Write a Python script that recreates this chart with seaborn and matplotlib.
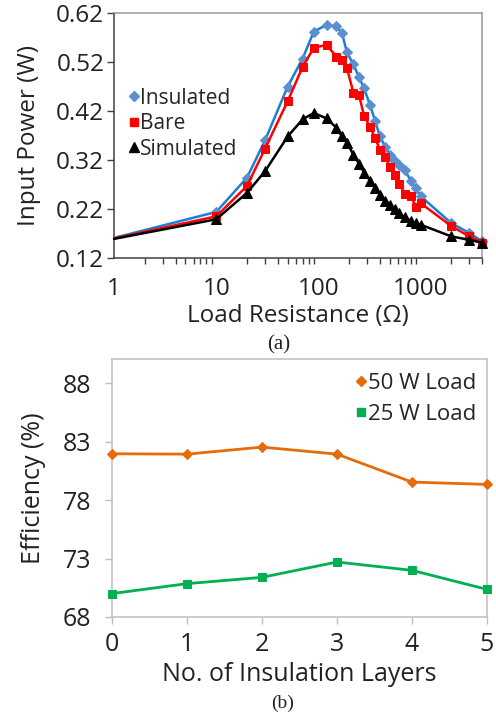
import numpy as np
import pandas as pd
import seaborn as sns
import matplotlib.pyplot as plt
from matplotlib.lines import Line2D
from matplotlib.ticker import FixedLocator, LogLocator, NullFormatter

# panel (a): input power vs load resistance
load_ohm = [1, 10, 20, 30, 50, 70, 90, 120, 150, 170, 190, 220, 250, 280, 320, 360,
            400, 450, 500, 560, 620, 700, 800, 900, 1000, 2000, 3000, 4000]
insulated_w = [0.161, 0.214, 0.284, 0.360, 0.470, 0.527, 0.582, 0.596, 0.593, 0.579,
               0.540, 0.515, 0.489, 0.466, 0.432, 0.399, 0.368, 0.347, 0.331, 0.318,
               0.309, 0.300, 0.278, 0.262, 0.246, 0.191, 0.171, 0.154]
bare_w = [0.160, 0.205, 0.267, 0.343, 0.440, 0.510, 0.549, 0.555, 0.531, 0.525,
          0.508, 0.457, 0.452, 0.410, 0.388, 0.364, 0.341, 0.327, 0.306, 0.290,
          0.272, 0.250, 0.246, 0.225, 0.232, 0.185, 0.164, 0.151]
simulated_w = [0.159, 0.199, 0.253, 0.297, 0.368, 0.403, 0.416, 0.405, 0.386, 0.368,
               0.355, 0.331, 0.312, 0.294, 0.278, 0.263, 0.249, 0.237, 0.228, 0.219,
               0.211, 0.203, 0.196, 0.191, 0.188, 0.164, 0.157, 0.151]

# panel (b): efficiency vs insulation layers
layers = [0, 1, 2, 3, 4, 5]
eff_50w = [81.96, 81.93, 82.53, 81.93, 79.54, 79.34]
eff_25w = [70.00, 70.85, 71.39, 72.70, 71.99, 70.36]

power_ticks = [0.12, 0.22, 0.32, 0.42, 0.52, 0.62]
eff_ticks = [68, 73, 78, 83, 88]

sns.set_theme(style="white")
plt.rcParams['font.family'] = ['Open Sans', 'DejaVu Sans']

FS_A = 17.5
FS_B = 18
TXT = "#222222"

fig = plt.figure(figsize=(4.96, 7.14), dpi=100)
ax_a = fig.add_axes([0.230, 0.6387, 0.742, 0.343])
ax_b = fig.add_axes([0.2258, 0.1359, 0.756, 0.361])

df_a = pd.DataFrame({"load": load_ohm, "Insulated": insulated_w,
                     "Bare": bare_w, "Simulated": simulated_w})
n = len(load_ohm)
series_a = [("Insulated", "#1C7ED6", "#5B8FD0", "D", 5.5),
            ("Bare", "#FF0000", "#FF0000", "s", 5.5),
            ("Simulated", "#000000", "#000000", "^", 6.5)]
for name, lc, mc, mk, ms in series_a:
    sns.lineplot(data=df_a, x="load", y=name, ax=ax_a, color=lc, lw=1.8,
                 marker=mk, markersize=ms, markerfacecolor=mc, markeredgecolor=mc,
                 markevery=list(range(1, n)), sort=False, clip_on=False, zorder=3)

ax_a.set_xscale("log")
ax_a.set_xlim(1, 4000)
ax_a.set_ylim(0.12, 0.62)
ax_a.xaxis.set_major_locator(FixedLocator([1, 10, 100, 1000]))
ax_a.set_xticklabels(["1", "10", "100", "1000"])
ax_a.xaxis.set_minor_locator(LogLocator(base=10, subs=np.arange(2, 10), numticks=20))
ax_a.xaxis.set_minor_formatter(NullFormatter())
ax_a.set_yticks(power_ticks)
ax_a.set_yticklabels([f"{t:.2f}" for t in power_ticks])
ax_a.tick_params(axis="x", which="major", direction="inout", length=9, width=1,
                 color="#404040", labelsize=FS_A, labelcolor=TXT, pad=9)
ax_a.tick_params(axis="x", which="minor", direction="out", length=4, width=1,
                 color="#404040", bottom=True)
ax_a.tick_params(axis="y", direction="out", length=5, width=1, color="#404040",
                 labelsize=FS_A, labelcolor=TXT, pad=2, left=True)
for side in ["bottom", "left"]:
    ax_a.spines[side].set_color("#404040")
    ax_a.spines[side].set_linewidth(1.1)
for side in ["top", "right"]:
    ax_a.spines[side].set_color("#9A9A9A")
    ax_a.spines[side].set_linewidth(1.1)
ax_a.set_xlabel("Load Resistance (Ω)", fontsize=FS_A, color=TXT)
ax_a.set_ylabel("Input Power (W)", fontsize=FS_A, color=TXT)
ax_a.xaxis.set_label_coords(0.5, -0.19)
ax_a.yaxis.set_label_coords(-0.198, 0.5)

handles_a = [Line2D([], [], ls="none", marker=mk, color=mc, markersize=ms)
             for _, _, mc, mk, ms in series_a]
ax_a.legend(handles_a, [s[0] for s in series_a], loc="upper left",
            bbox_to_anchor=(0.02, 0.73), frameon=False, fontsize=15,
            handlelength=0.4, handletextpad=0.1, labelspacing=0.22,
            borderaxespad=0)

df_b = pd.DataFrame({"layers": layers, "50 W Load": eff_50w, "25 W Load": eff_25w})
series_b = [("50 W Load", "#E46C0A", "D", 5.5), ("25 W Load", "#00B050", "s", 5.5)]
for name, c, mk, ms in series_b:
    sns.lineplot(data=df_b, x="layers", y=name, ax=ax_b, color=c, lw=2,
                 marker=mk, markersize=ms, markeredgecolor=c, clip_on=False,
                 zorder=3)

ax_b.set_xlim(0, 5)
ax_b.set_ylim(68, 90.05)
ax_b.set_xticks(layers)
ax_b.set_yticks(eff_ticks)
ax_b.tick_params(axis="x", direction="out", length=5, width=1, color="#BFBFBF",
                 labelsize=FS_B, labelcolor=TXT, pad=6, bottom=True)
ax_b.tick_params(axis="y", direction="out", length=5, width=1, color="#BFBFBF",
                 labelsize=FS_B, labelcolor=TXT, pad=10, left=True)
for side in ax_b.spines:
    ax_b.spines[side].set_color("#BFBFBF")
    ax_b.spines[side].set_linewidth(1.1)
ax_b.set_xlabel("No. of Insulation Layers", fontsize=FS_B, color=TXT)
ax_b.set_ylabel("Efficiency (%)", fontsize=FS_B, color=TXT)
ax_b.xaxis.set_label_coords(0.5, -0.176)
ax_b.yaxis.set_label_coords(-0.176, 0.5)

handles_b = [Line2D([], [], ls="none", marker=mk, color=c, markersize=ms)
             for _, c, mk, ms in series_b]
ax_b.legend(handles_b, [s[0] for s in series_b], loc="upper right",
            bbox_to_anchor=(0.995, 0.98), frameon=False, fontsize=16,
            handlelength=0.4, handletextpad=0.1, labelspacing=0.45,
            borderaxespad=0)

fig.text(0.561, 1 - 345 / 714, "(a)", ha="center", va="center", fontsize=15,
         family="Liberation Serif", color=TXT)
fig.text(0.569, 1 - 703 / 714, "(b)", ha="center", va="center", fontsize=14,
         family="Liberation Serif", color=TXT)

fig.savefig("out.png", dpi=100)
